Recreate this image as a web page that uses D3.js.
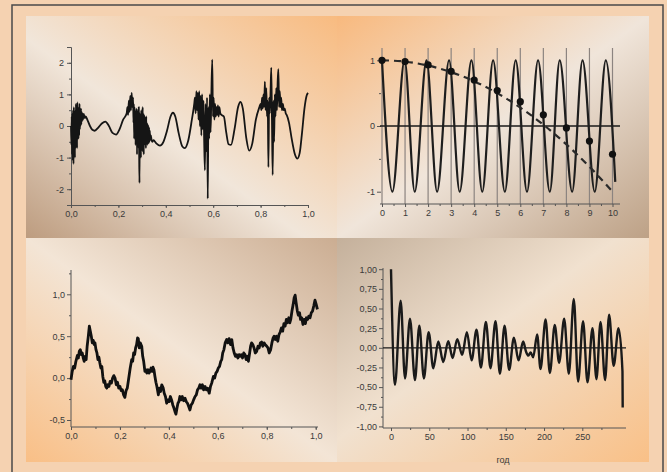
<!DOCTYPE html>
<html>
<head>
<meta charset="utf-8">
<script src="https://cdn.jsdelivr.net/npm/d3@7"></script>
<style>
html, body { margin: 0; padding: 0; background: #f5d2b1; }
svg { display: block; }
.tick text { font-family: "Liberation Sans", Arial, sans-serif; font-size: 9px; fill: #3a3a3a; }
.tick line { stroke: #555; }
</style>
</head>
<body>
<svg id="chart" width="667" height="472"></svg>
<script>
// ---- data ----

// top left: signal with noisy bursts, [x, y]
const signal = [
  [0.0000,0.0],[0.0015,-0.6],[0.003,0.3],[0.0045,-0.9],[0.006,0.4],[0.0075,-1.1],[0.009,0.5],[0.0105,-1.2],
  [0.012,0.6],[0.0135,-0.9],[0.015,0.3],[0.0165,-1.0],[0.018,0.5],[0.0195,-0.7],[0.021,0.7],[0.0225,-0.6],
  [0.024,0.5],[0.0255,-0.7],[0.027,0.75],[0.0285,-0.4],[0.030,0.6],[0.0315,-0.4],[0.033,0.5],[0.0345,-0.3],
  [0.036,0.7],[0.0375,-0.1],[0.039,0.5],[0.0405,0.0],[0.042,0.55],[0.0435,0.05],[0.045,0.45],[0.0465,0.15],
  [0.048,0.4],[0.050,0.2],[0.054,0.38],[0.058,0.25],[0.062,0.3],
  [0.07,0.18],[0.08,0.0],[0.09,-0.12],[0.10,-0.15],[0.115,-0.05],[0.13,0.08],[0.145,0.14],[0.16,0.0],
  [0.175,-0.22],[0.19,-0.27],[0.205,-0.1],[0.22,0.2],[0.235,0.4],
  [0.238,0.6],[0.241,0.35],[0.244,0.8],[0.247,0.45],[0.250,0.95],[0.253,0.5],[0.256,1.05],[0.259,0.6],
  [0.2620,0.9],[0.2635,0.1],[0.2650,0.7],[0.2665,-0.4],[0.2680,0.6],[0.2695,-0.2],[0.2710,0.5],[0.2725,-0.6],
  [0.2740,0.4],[0.2755,-0.5],[0.2770,0.55],[0.2785,-0.9],[0.2800,0.3],[0.2815,-0.6],[0.2830,0.5],[0.2845,-0.7],
  [0.2860,0.6],[0.2875,-0.8],[0.2890,-1.8],[0.2905,0.4],[0.2920,-0.6],[0.2935,0.3],[0.2950,-1.0],[0.2965,0.5],
  [0.2980,-0.7],[0.2995,0.45],[0.3010,-0.8],[0.3025,0.6],[0.3040,-0.5],[0.3055,0.4],[0.3070,-0.9],[0.3085,0.35],
  [0.3100,-0.5],[0.3115,0.3],[0.3130,-0.6],[0.3145,0.2],[0.3160,-0.7],[0.3175,0.3],[0.3190,-0.5],[0.3205,0.1],
  [0.3220,-0.6],[0.3235,0.05],[0.3250,-0.5],[0.3265,0.0],[0.3280,-0.55],[0.3295,-0.05],[0.3310,-0.5],
  [0.3325,-0.15],[0.3340,-0.45],[0.337,-0.3],[0.340,-0.45],[0.344,-0.5],[0.348,-0.45],
  [0.36,-0.55],[0.375,-0.62],[0.39,-0.5],[0.405,-0.15],[0.42,0.3],[0.43,0.42],[0.44,0.3],[0.455,-0.25],
  [0.47,-0.65],[0.48,-0.7],[0.495,-0.45],[0.51,0.2],[0.52,0.7],
  [0.523,0.9],[0.526,0.4],[0.529,1.1],[0.532,0.5],[0.535,1.05],[0.538,0.2],[0.541,1.1],[0.544,0.0],
  [0.547,0.95],[0.550,-0.3],[0.553,1.0],[0.556,-0.1],[0.559,0.8],[0.562,-0.5],[0.565,-1.4],[0.568,0.7],
  [0.571,-0.8],[0.574,0.9],[0.577,-2.3],[0.580,0.6],[0.583,-0.4],[0.586,1.0],[0.589,-0.2],[0.592,0.9],
  [0.596,2.1],[0.599,0.3],[0.602,0.9],[0.605,0.2],[0.608,0.7],[0.611,0.3],[0.614,0.6],[0.617,0.35],
  [0.620,0.65],[0.623,0.3],[0.626,0.6],[0.630,0.4],[0.635,0.35],
  [0.645,0.3],[0.655,-0.2],[0.665,-0.58],[0.675,-0.6],[0.69,-0.1],[0.705,0.6],[0.715,0.76],[0.725,0.55],
  [0.74,-0.4],[0.752,-0.78],[0.765,-0.55],[0.78,0.2],[0.795,0.6],
  [0.800,0.7],[0.803,0.5],[0.806,0.9],[0.809,0.55],[0.812,1.0],[0.815,0.6],[0.818,1.4],[0.821,0.5],
  [0.824,1.2],[0.827,0.3],[0.830,0.8],[0.833,-1.3],[0.836,0.9],[0.839,0.4],[0.842,1.1],[0.845,1.85],
  [0.848,0.2],[0.851,-1.55],[0.854,0.8],[0.857,-0.5],[0.860,1.0],[0.863,0.3],[0.866,1.2],[0.869,0.5],
  [0.872,1.4],[0.875,1.8],[0.878,0.6],[0.881,1.1],[0.884,0.6],[0.887,0.9],[0.890,0.5],[0.894,0.7],
  [0.898,0.5],[0.902,0.55],[0.906,0.4],[0.91,0.35],
  [0.92,0.1],[0.93,-0.35],[0.945,-0.9],[0.955,-1.03],[0.965,-0.85],[0.975,-0.2],[0.985,0.55],
  [0.995,0.98],[1.0,1.05]
];
const signalXTicks = [0, 0.2, 0.4, 0.6, 0.8, 1.0];
const signalYTicks = [-2, -1, 0, 1, 2];

// top right: fast wave (extremes), samples at integers, slow envelope
const waveX = [0, 0.45, 0.98, 1.42, 1.93, 2.39, 2.91, 3.37, 3.88, 4.35, 4.82, 5.33, 5.8, 6.29, 6.77,
  7.28, 7.71, 8.25, 8.70, 9.23, 9.71, 10.12];
const waveY = [1, -1, 1, -1, 1, -1, 1, -1, 1, -1, 1, -1, 1, -1, 1, -1, 1, -1, 1, -1, 1, -0.85];
const sampleX = [0, 1, 2, 3, 4, 5, 6, 7, 8, 9, 10];
const sampleY = [1.0, 0.98, 0.93, 0.83, 0.70, 0.54, 0.37, 0.17, -0.03, -0.23, -0.43];
const aliasY = [1.0, 0.98, 0.92, 0.82, 0.68, 0.5, 0.28, 0.02, -0.28, -0.62, -1.0];
const waveYTicks = [-1, 0, 1];

// bottom left: random walk, [x, y]
const walk = [
  [0.000,-0.02],[0.005,0.08],[0.010,0.14],[0.015,0.12],[0.020,0.2],[0.026,0.27],[0.030,0.24],[0.034,0.32],
  [0.038,0.34],[0.042,0.28],[0.046,0.3],[0.050,0.24],[0.054,0.2],[0.058,0.26],[0.062,0.22],[0.066,0.38],
  [0.070,0.48],[0.075,0.62],[0.079,0.56],[0.083,0.5],[0.087,0.42],[0.091,0.45],[0.095,0.4],[0.098,0.42],
  [0.102,0.34],[0.106,0.3],[0.110,0.22],[0.114,0.25],[0.118,0.18],[0.122,0.12],[0.126,0.14],[0.130,0.02],
  [0.134,-0.05],[0.138,-0.03],[0.142,-0.1],[0.146,-0.12],[0.150,-0.08],[0.155,-0.1],[0.160,-0.04],
  [0.165,-0.06],[0.170,0.0],[0.175,0.03],[0.180,0.0],[0.185,-0.08],[0.190,-0.05],[0.195,-0.12],
  [0.200,-0.1],[0.205,-0.15],[0.210,-0.14],[0.215,-0.2],[0.220,-0.23],[0.225,-0.15],[0.230,-0.12],
  [0.234,-0.04],[0.238,0.04],[0.242,0.12],[0.248,0.22],[0.252,0.2],[0.256,0.3],[0.260,0.28],[0.264,0.36],
  [0.268,0.4],[0.272,0.48],[0.275,0.47],[0.279,0.36],[0.283,0.42],[0.289,0.38],[0.293,0.26],[0.297,0.2],
  [0.302,0.08],[0.306,0.1],[0.310,0.06],[0.315,0.1],[0.319,0.06],[0.323,0.08],[0.327,0.12],[0.331,0.08],
  [0.335,0.13],[0.339,0.1],[0.343,0.02],[0.347,-0.05],[0.351,-0.1],[0.357,-0.2],[0.361,-0.12],
  [0.366,-0.16],[0.371,-0.08],[0.377,-0.12],[0.381,-0.18],[0.386,-0.22],[0.391,-0.3],[0.396,-0.26],
  [0.401,-0.28],[0.406,-0.22],[0.411,-0.26],[0.416,-0.32],[0.421,-0.36],[0.425,-0.4],[0.429,-0.43],
  [0.433,-0.36],[0.437,-0.3],[0.441,-0.28],[0.445,-0.22],[0.450,-0.26],[0.455,-0.22],[0.460,-0.27],
  [0.466,-0.24],[0.471,-0.28],[0.476,-0.3],[0.481,-0.34],[0.486,-0.38],[0.491,-0.32],[0.496,-0.3],
  [0.501,-0.26],[0.507,-0.22],[0.512,-0.2],[0.517,-0.14],[0.522,-0.12],[0.527,-0.08],[0.532,-0.12],
  [0.537,-0.08],[0.542,-0.14],[0.548,-0.1],[0.553,-0.14],[0.558,-0.12],[0.565,-0.18],[0.570,-0.1],
  [0.575,-0.06],[0.582,0.02],[0.587,0.0],[0.592,0.06],[0.597,0.08],[0.602,0.12],[0.607,0.14],[0.612,0.2],
  [0.616,0.22],[0.620,0.3],[0.625,0.34],[0.630,0.42],[0.636,0.46],[0.641,0.42],[0.646,0.47],[0.652,0.4],
  [0.657,0.46],[0.662,0.36],[0.667,0.3],[0.672,0.26],[0.677,0.28],[0.682,0.24],[0.687,0.28],[0.691,0.26],
  [0.696,0.28],[0.701,0.24],[0.706,0.3],[0.711,0.28],[0.716,0.22],[0.721,0.26],[0.725,0.2],[0.730,0.3],
  [0.734,0.38],[0.738,0.42],[0.743,0.4],[0.748,0.36],[0.753,0.3],[0.759,0.32],[0.764,0.38],[0.769,0.36],
  [0.774,0.42],[0.779,0.43],[0.784,0.38],[0.789,0.42],[0.794,0.4],[0.800,0.38],[0.805,0.36],[0.810,0.3],
  [0.816,0.34],[0.821,0.42],[0.826,0.48],[0.830,0.5],[0.835,0.46],[0.840,0.5],[0.845,0.44],[0.850,0.52],
  [0.855,0.55],[0.860,0.6],[0.865,0.56],[0.870,0.65],[0.875,0.62],[0.880,0.7],[0.885,0.66],[0.890,0.72],
  [0.894,0.66],[0.898,0.7],[0.903,0.8],[0.908,0.88],[0.912,0.96],[0.916,0.99],[0.920,0.9],[0.925,0.8],
  [0.929,0.75],[0.934,0.78],[0.938,0.7],[0.943,0.72],[0.948,0.64],[0.953,0.7],[0.958,0.65],[0.962,0.72],
  [0.967,0.7],[0.972,0.74],[0.977,0.72],[0.982,0.78],[0.987,0.8],[0.992,0.86],[0.997,0.93],[1.002,0.88],
  [1.007,0.82]
];
const walkYTicks = [-0.5, 0, 0.5, 1.0];

// bottom right: autocorrelation, lag (год) and value
const lag = [0, 5.2, 12.6, 18.3, 24.8, 31.3, 37, 43, 49.2, 55.3, 61.8, 68.3, 74.8, 80.5, 86.6, 93,
  99.2, 105.3, 111.8, 117.5, 124, 130, 136.6, 142.3, 148.4, 154.4, 160.6, 166.7, 172.7, 176.5, 179.5,
  182.5, 185.8, 191, 195.4, 202, 207.6, 214, 219.7, 226.3, 232.4, 238.9, 244.5, 251, 256.8, 263.3,
  268.5, 273.8, 279.8, 285, 291, 297.3, 302.5, 302.8];
const acf = [1.0, -0.47, 0.6, -0.39, 0.37, -0.41, 0.28, -0.39, 0.2, -0.26, 0.08, -0.18, 0.085, -0.13,
  0.11, -0.09, 0.2, -0.16, 0.23, -0.25, 0.33, -0.26, 0.34, -0.33, 0.28, -0.28, 0.13, -0.16, 0.08, -0.05,
  -0.1, -0.06, -0.12, 0.17, -0.27, 0.36, -0.32, 0.29, -0.19, 0.37, -0.33, 0.62, -0.43, 0.34, -0.44, 0.25,
  -0.4, 0.33, -0.41, 0.42, -0.23, 0.25, -0.3, -0.76];
const acfXTicks = [0, 50, 100, 150, 200, 250];
const acfYTicks = [-1, -0.75, -0.5, -0.25, 0, 0.25, 0.5, 0.75, 1];

// ---- drawing ----
const svg = d3.select("#chart");
const defs = svg.append("defs");

const comma = f => d => d3.format(f)(d).replace(".", ",").replace("\u2212", "-");
const plain = d => String(d).replace("\u2212", "-");

function gradient(id, x1, y1, x2, y2, stops) {
  const lg = defs.append("linearGradient").attr("id", id)
    .attr("x1", x1).attr("y1", y1).attr("x2", x2).attr("y2", y2);
  stops.forEach(s => lg.append("stop").attr("offset", s[0]).attr("stop-color", s[1]));
}
gradient("gTL", 0, 1, 1, 0, [[0, "#bd9c7f"], [0.45, "#f1e6da"], [1, "#f8bb80"]]);
gradient("gTR", 0, 0, 1, 1, [[0, "#f8b97e"], [0.5, "#f0e5da"], [1, "#bda186"]]);
gradient("gBL", 0, 1, 1, 0, [[0, "#f9bf86"], [0.5, "#f3e5d6"], [1, "#cbad92"]]);
gradient("gBR", 0, 0, 1, 1, [[0, "#c4b09b"], [0.45, "#f1e1cf"], [1, "#f9c087"]]);

// frame
svg.append("path")
  .attr("d", "M12,472 L12,5 L663,5 L663,472")
  .attr("fill", "none").attr("stroke", "#4a4a4a").attr("stroke-width", 1.5);

const panels = [
  {x: 26, y: 16, w: 311, h: 222, fill: "url(#gTL)"},
  {x: 337, y: 16, w: 312, h: 222, fill: "url(#gTR)"},
  {x: 26, y: 238, w: 311, h: 224, fill: "url(#gBL)"},
  {x: 337, y: 238, w: 312, h: 224, fill: "url(#gBR)"}
];
svg.selectAll("rect.panel").data(panels).join("rect")
  .attr("class", "panel")
  .attr("x", d => d.x).attr("y", d => d.y)
  .attr("width", d => d.w).attr("height", d => d.h)
  .attr("fill", d => d.fill);

function styleAxis(g) {
  g.select(".domain").attr("stroke", "#555").attr("stroke-width", 1);
}

function minor(g, axis) {
  g.call(axis.tickFormat(""));
  g.select(".domain").remove();
}

// ---- top left ----
{
  const x = d3.scaleLinear().domain([0, 1]).range([71, 308]);
  const y = d3.scaleLinear().domain([-2.5, 2.5]).range([205, 47]);
  const g = svg.append("g");

  g.append("g").attr("transform", "translate(0,205)")
    .call(d3.axisBottom(x).tickValues(signalXTicks).tickSize(3).tickPadding(3).tickFormat(comma(".1f")))
    .call(styleAxis);
  g.append("g").attr("transform", "translate(0,205)")
    .call(gg => minor(gg, d3.axisBottom(x).ticks(10).tickSize(2)));
  g.append("g").attr("transform", "translate(71,0)")
    .call(d3.axisLeft(y).tickValues(signalYTicks).tickSize(4).tickPadding(3).tickFormat(plain))
    .call(styleAxis);
  g.append("g").attr("transform", "translate(71,0)")
    .call(gg => minor(gg, d3.axisLeft(y).tickValues(d3.range(-2.5, 2.6, 0.5)).tickSize(2)));

  g.append("path").datum(signal)
    .attr("fill", "none").attr("stroke", "#151515").attr("stroke-width", 1.8)
    .attr("stroke-linejoin", "round")
    .attr("d", d3.line().x(d => x(d[0])).y(d => y(d[1])).curve(d3.curveMonotoneX));
}

// ---- top right ----
{
  const x = d3.scaleLinear().domain([0, 10]).range([382, 612.5]);
  const y = d3.scaleLinear().domain([-1, 1]).range([191.7, 60.3]);
  const g = svg.append("g");

  g.append("g").selectAll("line").data(sampleX).join("line")
    .attr("x1", d => x(d)).attr("x2", d => x(d)).attr("y1", 48).attr("y2", 204)
    .attr("stroke", "#8c8480").attr("stroke-width", 1.2);

  g.append("g").attr("transform", "translate(0,204)")
    .call(d3.axisBottom(x).tickValues(sampleX).tickSize(3).tickPadding(3).tickFormat(plain))
    .call(gg => gg.select(".domain").remove());
  g.append("g").attr("transform", "translate(0,204)")
    .call(gg => minor(gg, d3.axisBottom(x).tickValues(d3.range(0.5, 10, 1)).tickSize(2)));
  g.append("line").attr("x1", 380).attr("x2", 620).attr("y1", 204).attr("y2", 204)
    .attr("stroke", "#555");
  g.append("g").attr("transform", "translate(381,0)")
    .call(d3.axisLeft(y).tickValues(waveYTicks).tickSize(4).tickPadding(2).tickFormat(plain))
    .call(gg => gg.select(".domain").remove());
  g.append("g").attr("transform", "translate(381,0)")
    .call(gg => minor(gg, d3.axisLeft(y).tickValues([-0.5, 0.5]).tickSize(2)));

  g.append("line").attr("x1", 380).attr("x2", 620).attr("y1", y(0)).attr("y2", y(0))
    .attr("stroke", "#1a1a1a").attr("stroke-width", 1.5);

  g.append("path").datum(d3.zip(waveX, waveY))
    .attr("fill", "none").attr("stroke", "#1e1e1e").attr("stroke-width", 2.2)
    .attr("d", d3.line().x(d => x(d[0])).y(d => y(d[1])).curve(d3.curveMonotoneX));

  g.append("path").datum(d3.zip(sampleX, aliasY))
    .attr("fill", "none").attr("stroke", "#2a2a2a").attr("stroke-width", 2.2)
    .attr("stroke-dasharray", "7,5")
    .attr("d", d3.line().x(d => x(d[0])).y(d => y(d[1])).curve(d3.curveMonotoneX));

  g.append("g").selectAll("circle").data(d3.zip(sampleX, sampleY)).join("circle")
    .attr("cx", d => x(d[0])).attr("cy", d => y(d[1])).attr("r", 3.6)
    .attr("fill", "#111");
}

// ---- bottom left ----
{
  const x = d3.scaleLinear().domain([0, 1]).range([71, 315.7]);
  const y = d3.scaleLinear().domain([-0.5, 1.0]).range([420, 294.3]);
  const g = svg.append("g");

  g.append("g").attr("transform", "translate(0,427)")
    .call(d3.axisBottom(x).tickValues(signalXTicks).tickSize(3).tickPadding(3).tickFormat(comma(".1f")))
    .call(gg => gg.select(".domain").remove());
  g.append("g").attr("transform", "translate(0,427)")
    .call(gg => minor(gg, d3.axisBottom(x).ticks(10).tickSize(2)));
  g.append("line").attr("x1", 71).attr("x2", 318).attr("y1", 427).attr("y2", 427).attr("stroke", "#555");
  g.append("g").attr("transform", "translate(71,0)")
    .call(d3.axisLeft(y).tickValues(walkYTicks).tickSize(4).tickPadding(2).tickFormat(comma(".1f")))
    .call(gg => gg.select(".domain").remove());
  g.append("g").attr("transform", "translate(71,0)")
    .call(gg => minor(gg, d3.axisLeft(y).tickValues(d3.range(-0.25, 1.3, 0.5)).tickSize(2)));
  g.append("line").attr("x1", 71).attr("x2", 71).attr("y1", 270).attr("y2", 427).attr("stroke", "#555");

  g.append("path").datum(walk)
    .attr("fill", "none").attr("stroke", "#111").attr("stroke-width", 2.8)
    .attr("stroke-linejoin", "round")
    .attr("d", d3.line().x(d => x(d[0])).y(d => y(d[1])));
}

// ---- bottom right ----
{
  const x = d3.scaleLinear().domain([0, 250]).range([391, 582.3]);
  const y = d3.scaleLinear().domain([-1, 1]).range([426.4, 269.2]);
  const g = svg.append("g");

  g.append("g").attr("transform", "translate(0,428)")
    .call(d3.axisBottom(x).tickValues(acfXTicks).tickSize(3).tickPadding(3).tickFormat(plain))
    .call(gg => gg.select(".domain").remove());
  g.append("g").attr("transform", "translate(0,428)")
    .call(gg => minor(gg, d3.axisBottom(x).tickValues(d3.range(25, 300, 50)).tickSize(2)));
  g.append("line").attr("x1", 383).attr("x2", 626).attr("y1", 428).attr("y2", 428).attr("stroke", "#555");
  g.append("g").attr("transform", "translate(383,0)")
    .call(d3.axisLeft(y).tickValues(acfYTicks).tickSize(4).tickPadding(2).tickFormat(comma(".2f")))
    .call(gg => gg.select(".domain").remove());
  g.append("g").attr("transform", "translate(383,0)")
    .call(gg => minor(gg, d3.axisLeft(y).tickValues(d3.range(-0.875, 1, 0.25)).tickSize(2)));
  g.append("line").attr("x1", 383).attr("x2", 383).attr("y1", 268).attr("y2", 428).attr("stroke", "#555");

  g.append("line").attr("x1", 383).attr("x2", 626).attr("y1", y(0)).attr("y2", y(0))
    .attr("stroke", "#1a1a1a").attr("stroke-width", 1.3);

  g.append("path").datum(d3.zip(lag, acf))
    .attr("fill", "none").attr("stroke", "#1a1a1a").attr("stroke-width", 2.4)
    .attr("stroke-linejoin", "round")
    .attr("d", d3.line().x(d => x(d[0])).y(d => y(d[1])).curve(d3.curveMonotoneX));

  g.append("text").attr("x", 503).attr("y", 463)
    .attr("text-anchor", "middle")
    .attr("font-family", "Liberation Sans, Arial, sans-serif").attr("font-size", 9).attr("fill", "#3a3a3a")
    .text("год");
}
</script>
</body>
</html>
